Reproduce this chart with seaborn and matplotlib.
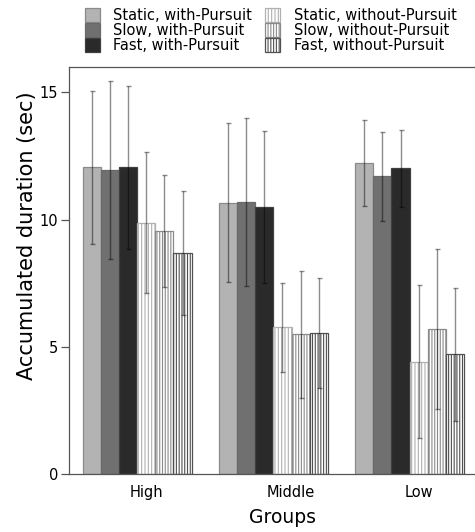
import numpy as np
import pandas as pd
import seaborn as sns
import matplotlib
matplotlib.use("Agg")
import matplotlib.pyplot as plt
from matplotlib.patches import Patch

# Groups on the x axis and the six stimulus conditions
groups = ["High", "Middle", "Low"]
conditions = [
    "Static, with-Pursuit",
    "Slow, with-Pursuit",
    "Fast, with-Pursuit",
    "Static, without-Pursuit",
    "Slow, without-Pursuit",
    "Fast, without-Pursuit",
]

# Mean accumulated duration (sec) per condition, ordered High / Middle / Low
static_with = [12.06, 10.67, 12.23]
slow_with = [11.94, 10.70, 11.71]
fast_with = [12.06, 10.50, 12.01]
static_without = [9.87, 5.77, 4.42]
slow_without = [9.57, 5.50, 5.70]
fast_without = [8.69, 5.54, 4.70]

# Standard deviations for the error bars
static_with_sd = [3.01, 3.12, 1.68]
slow_with_sd = [3.50, 3.30, 1.75]
fast_with_sd = [3.20, 2.98, 1.50]
static_without_sd = [2.77, 1.75, 3.00]
slow_without_sd = [2.20, 2.50, 3.13]
fast_without_sd = [2.42, 2.17, 2.62]

y_ticks = [0, 5, 10, 15]

means = [static_with, slow_with, fast_with, static_without, slow_without, fast_without]
sds = [static_with_sd, slow_with_sd, fast_with_sd,
       static_without_sd, slow_without_sd, fast_without_sd]

df = pd.DataFrame(
    [(g, c, means[i][j]) for i, c in enumerate(conditions) for j, g in enumerate(groups)],
    columns=["group", "condition", "duration"],
)

fills = ["#b3b3b3", "#707070", "#2a2a2a", "#ffffff", "#ffffff", "#ffffff"]
edges = ["#8a8a8a", "#6a6a6a", "#404040", "#b0b0b0", "#8a8a8a", "#505050"]
hatches = [None, None, None, "|||||", "||||||", "||||||"]

sns.set_theme(style="white")
plt.rcParams["font.family"] = ["DejaVu Sans"]
plt.rcParams["hatch.linewidth"] = 0.8
plt.rcParams["text.color"] = "black"
plt.rcParams["axes.labelcolor"] = "black"
plt.rcParams["xtick.labelcolor"] = "black"
plt.rcParams["ytick.labelcolor"] = "black"

fig = plt.figure(figsize=(4.75, 5.32), dpi=100)
ax = fig.add_axes([69 / 475, 1 - 474 / 532, 1 - 69 / 475, (474 - 67) / 532])

sns.barplot(
    data=df, x="group", y="duration", hue="condition",
    order=groups, hue_order=conditions, palette=fills,
    saturation=1, errorbar=None, width=0.8, legend=False,
    linewidth=0.9, ax=ax,
)

bar_containers = list(ax.containers)
for i, cont in enumerate(bar_containers):
    for j, bar in enumerate(cont):
        if hatches[i]:
            bar.set_hatch(hatches[i])
        bar.set_edgecolor(edges[i])
        bar.set_linewidth(0.9)
        x = bar.get_x() + bar.get_width() / 2
        ax.errorbar(
            x, means[i][j], yerr=sds[i][j], fmt="none",
            ecolor=(0, 0, 0, 0.45), elinewidth=1.0, capsize=1.8,
            capthick=1.0, zorder=5,
        )

ax.set_ylim(0, 16)
ax.set_xlim(-0.5, 2.48)
ax.set_yticks(y_ticks)
ax.set_yticklabels([str(t) for t in y_ticks])
ax.set_xticks([0.07, 1.13, 2.07])
ax.set_xticklabels(groups)
ax.tick_params(axis="y", length=6, width=0.9, color="#555555", pad=2,
               labelsize=10.5, left=True)
ax.tick_params(axis="x", length=0, pad=8, labelsize=10.5)

for side in ["left", "top", "bottom"]:
    ax.spines[side].set_color("#555555")
    ax.spines[side].set_linewidth(0.9)
ax.spines["right"].set_visible(False)

ax.set_ylabel("Accumulated duration (sec)", fontsize=15)
ax.yaxis.set_label_coords(-0.078, 0.585)
ax.set_xlabel("Groups", fontsize=13.5)
ax.xaxis.set_label_coords(0.526, -0.083)

handles = [
    Patch(facecolor=fills[i], edgecolor=edges[i], hatch=hatches[i], linewidth=0.9)
    for i in range(len(conditions))
]
fig.legend(
    handles, conditions, ncol=2, loc="upper left",
    bbox_to_anchor=(85 / 475, 1 - 8 / 532), bbox_transform=fig.transFigure,
    frameon=False, fontsize=10.5, handlelength=1.0, handleheight=1.05,
    handletextpad=0.95, columnspacing=0.9, labelspacing=0.0,
    borderpad=0, borderaxespad=0,
)

fig.savefig("out.png", dpi=100)
